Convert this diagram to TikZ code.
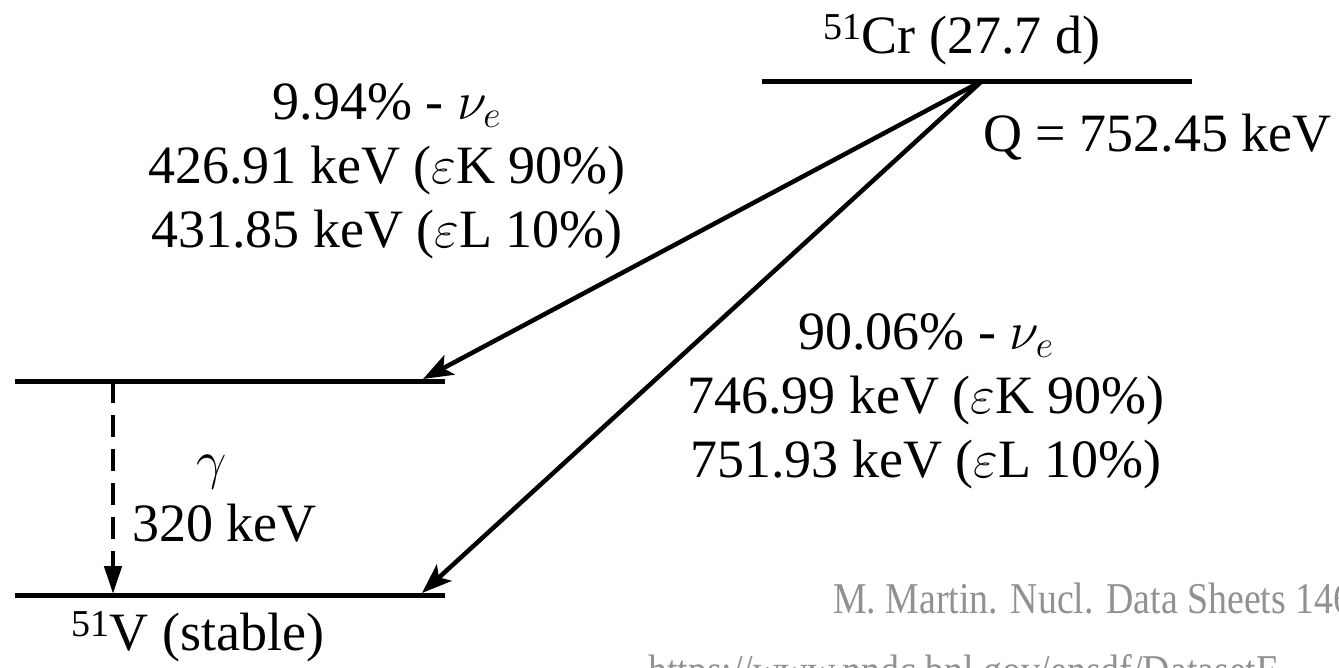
\RequirePackage{fix-cm}
\documentclass[tikz,border=0pt]{standalone}
\usepackage{fontspec}
\setmainfont{Liberation Serif}
\newfontfamily\citefont[FakeStretch=0.86]{Liberation Serif}
\usetikzlibrary{arrows.meta}
\definecolor{citegray}{RGB}{145,145,145}
\begin{document}
\begin{tikzpicture}[x=1pt,y=-1pt,
  level/.style={line width=5pt},
  trans/.style={line width=4.5pt,-{Stealth[length=30pt,width=22pt,inset=7pt]}},
  gam/.style={line width=4.5pt,dash pattern=on 22pt off 12pt,-{Triangle[length=28pt,width=17pt]}},
  lbl/.style={font=\fontsize{54}{64}\selectfont,align=center,inner sep=0pt},
  cite/.style={font=\citefont\fontsize{44}{66}\selectfont,text=citegray,inner sep=0pt,anchor=base west}]
\useasboundingbox (0,0) rectangle (1339,667);
% levels
\coordinate (crL) at (762,81);
\coordinate (crR) at (1192,81);
\coordinate (crO) at (982,81);
\coordinate (exL) at (15,381);
\coordinate (exR) at (445,381);
\coordinate (exT) at (423,379);
\coordinate (gsL) at (15,595);
\coordinate (gsR) at (445,595);
\coordinate (gsT) at (422,593);
\coordinate (gA) at (113,381);
\coordinate (gB) at (113,594);
\draw[level] (crL) -- (crR);
\draw[level] (exL) -- (exR);
\draw[level] (gsL) -- (gsR);
% transitions
\draw[trans] (crO) -- (exT);
\draw[trans] (crO) -- (gsT);
\draw[gam] (gA) -- (gB);
% labels
\node[lbl] (cr) at (962,40) {{\fontsize{38}{40}\selectfont\raisebox{14pt}{51}}Cr (27.7 d)};
\node[lbl,anchor=east] (q) at (1332,137) {Q = 752.45 keV};
\node[lbl] (b1) at (387,171) {9.94\% - $\nu_e$\\426.91 keV ($\varepsilon$K 90\%)\\431.85 keV ($\varepsilon$L 10\%)};
\node[lbl] (b2) at (926,401) {90.06\% - $\nu_e$\\746.99 keV ($\varepsilon$K 90\%)\\751.93 keV ($\varepsilon$L 10\%)};
\node[lbl] (g) at (212,472) {$\gamma$};
\node[lbl,anchor=west] (ge) at (132,523) {320 keV};
\node[lbl] (v) at (198,637) {{\fontsize{38}{40}\selectfont\raisebox{14pt}{51}}V (stable)};
\begin{scope}
\clip (0,0) rectangle (1339,667);
\node[cite] (ref1) at (833,613) {M. Martin. Nucl. Data Sheets 146};
\node[cite] (ref2) at (648,685) {https://www.nndc.bnl.gov/ensdf/DatasetF};
\end{scope}
\end{tikzpicture}
\end{document}
